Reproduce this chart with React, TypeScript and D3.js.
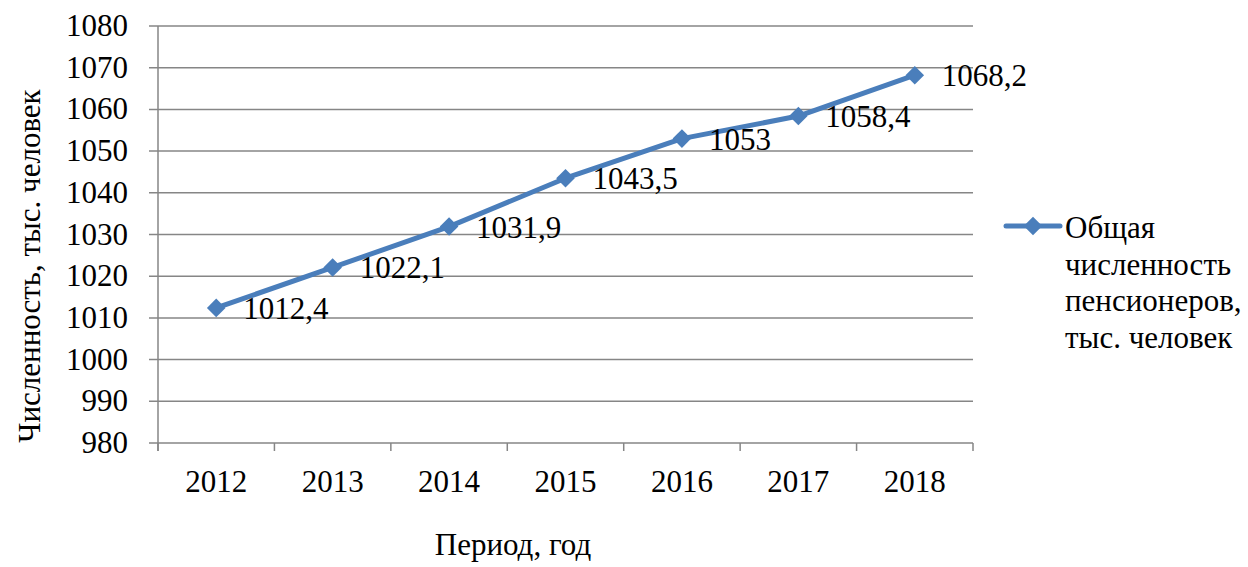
import React, { useRef, useEffect } from "react";
import * as d3 from "d3";

const years = ["2012", "2013", "2014", "2015", "2016", "2017", "2018"];
const values = [1012.4, 1022.1, 1031.9, 1043.5, 1053, 1058.4, 1068.2];
const yTicks = [980, 990, 1000, 1010, 1020, 1030, 1040, 1050, 1060, 1070, 1080];
const legendLines = ["Общая", "численность", "пенсионеров,", "тыс. человек"];

const W = 1248;
const H = 567;
const left = 158;
const right = 973;
const top = 26;
const bottom = 443;
const blue = "#4A7EBB";
const grey = "#868686";
const font = "'Liberation Serif', 'Times New Roman', serif";
const fs = "31px";

const App = () => {
  const svgRef = useRef(null);

  useEffect(() => {
    const svg = d3.select(svgRef.current);
    svg.selectAll("*").remove();

    const x = d3.scaleBand().domain(years).range([left, right]);
    const y = d3.scaleLinear().domain([980, 1080]).range([bottom, top]);
    const cx = (d) => x(d) + x.bandwidth() / 2;

    // gridlines + y ticks
    svg.append("g")
      .selectAll("line")
      .data(yTicks)
      .enter()
      .append("line")
      .attr("x1", left - 9)
      .attr("x2", right)
      .attr("y1", d => y(d))
      .attr("y2", d => y(d))
      .attr("stroke", grey)
      .attr("stroke-width", 1.5);

    // y axis line
    svg.append("line")
      .attr("x1", left).attr("x2", left)
      .attr("y1", top).attr("y2", bottom + 8)
      .attr("stroke", grey).attr("stroke-width", 1.5);

    // x ticks
    const xEdges = years.map(d => x(d)).concat([right]);
    svg.append("g")
      .selectAll("line")
      .data(xEdges)
      .enter()
      .append("line")
      .attr("x1", d => d).attr("x2", d => d)
      .attr("y1", bottom).attr("y2", bottom + 8)
      .attr("stroke", grey).attr("stroke-width", 1.5);

    // y labels
    svg.append("g")
      .selectAll("text")
      .data(yTicks)
      .enter()
      .append("text")
      .attr("x", 128)
      .attr("y", d => y(d) + 10)
      .attr("text-anchor", "end")
      .style("font-family", font)
      .style("font-size", fs)
      .text(d => d);

    // x labels
    svg.append("g")
      .selectAll("text")
      .data(years)
      .enter()
      .append("text")
      .attr("x", d => cx(d))
      .attr("y", 492)
      .attr("text-anchor", "middle")
      .style("font-family", font)
      .style("font-size", fs)
      .text(d => d);

    // line
    const line = d3.line()
      .x((d, i) => cx(years[i]))
      .y(d => y(d));
    svg.append("path")
      .datum(values)
      .attr("d", line)
      .attr("fill", "none")
      .attr("stroke", blue)
      .attr("stroke-width", 5)
      .attr("stroke-linejoin", "round");

    const diamond = d3.symbol().type(d3.symbolDiamond2).size(220);
    svg.append("g")
      .selectAll("path")
      .data(values)
      .enter()
      .append("path")
      .attr("d", diamond)
      .attr("transform", (d, i) => `translate(${cx(years[i])},${y(d)})`)
      .attr("fill", blue);

    // data labels
    svg.append("g")
      .selectAll("text")
      .data(values)
      .enter()
      .append("text")
      .attr("x", (d, i) => cx(years[i]) + 27)
      .attr("y", d => y(d) + 11)
      .style("font-family", font)
      .style("font-size", fs)
      .text(d => String(d).replace(".", ","));

    // axis titles
    svg.append("text")
      .attr("transform", `translate(40,266) rotate(-90)`)
      .attr("text-anchor", "middle")
      .style("font-family", font)
      .style("font-size", fs)
      .text("Численность, тыс. человек");

    svg.append("text")
      .attr("x", 513)
      .attr("y", 555)
      .attr("text-anchor", "middle")
      .style("font-family", font)
      .style("font-size", fs)
      .text("Период, год");

    // legend
    const lg = svg.append("g");
    lg.append("line")
      .attr("x1", 1006).attr("x2", 1060)
      .attr("y1", 226).attr("y2", 226)
      .attr("stroke", blue).attr("stroke-width", 5)
      .attr("stroke-linecap", "round");
    lg.append("path")
      .attr("d", diamond)
      .attr("transform", "translate(1033,226)")
      .attr("fill", blue);
    lg.selectAll("text")
      .data(legendLines)
      .enter()
      .append("text")
      .attr("x", 1065)
      .attr("y", (d, i) => 238 + i * 36.5)
      .style("font-family", font)
      .style("font-size", fs)
      .text(d => d);
  }, []);

  return (
    <svg ref={svgRef} width={W} height={H} style={{ position: "absolute", left: 0, top: 0, background: "#fff" }}></svg>
  );
};

export default App;
